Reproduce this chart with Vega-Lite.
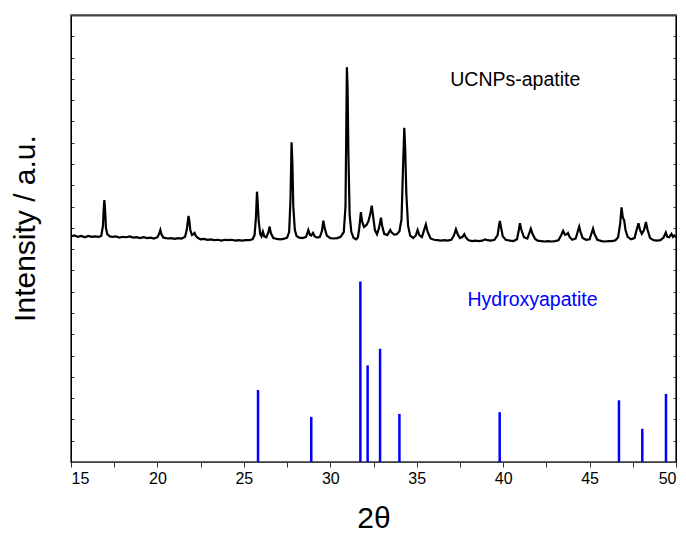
{
  "$schema": "https://vega.github.io/schema/vega-lite/v6.json",
  "width": 605,
  "height": 447,
  "autosize": {"type": "none"},
  "padding": {"left": 71, "top": 15, "right": 10, "bottom": 71},
  "background": "white",
  "config": {"view": {"stroke": "#333333", "strokeWidth": 1.5}, "axis": {"grid": false, "labelFont": "Liberation Sans", "titleFont": "Liberation Sans", "titleFontWeight": "normal", "labelColor": "#000", "titleColor": "#000"}},
  "datasets": {
    "xrd": [
      {"t":15.0,"i":53.0},{"t":15.2,"i":53.2},{"t":15.4,"i":52.9},{"t":15.6,"i":53.1},{"t":15.8,"i":52.8},{"t":16.0,"i":53.1},{"t":16.2,"i":52.9},{"t":16.4,"i":53.0},{"t":16.6,"i":52.9},{"t":16.75,"i":53.1},{"t":16.85,"i":55.5},{"t":16.9,"i":60.0},{"t":16.93,"i":61.5},{"t":16.97,"i":59.5},{"t":17.02,"i":55.0},{"t":17.1,"i":53.5},{"t":17.25,"i":53.0},{"t":17.4,"i":52.9},{"t":17.6,"i":53.0},{"t":17.8,"i":52.7},{"t":18.0,"i":52.9},{"t":18.2,"i":52.8},{"t":18.4,"i":53.0},{"t":18.6,"i":52.7},{"t":18.8,"i":52.8},{"t":19.0,"i":52.6},{"t":19.2,"i":52.8},{"t":19.4,"i":52.6},{"t":19.6,"i":52.7},{"t":19.8,"i":52.5},{"t":20.0,"i":52.8},{"t":20.1,"i":53.6},{"t":20.17,"i":54.5},{"t":20.24,"i":53.4},{"t":20.35,"i":52.7},{"t":20.6,"i":52.5},{"t":20.8,"i":52.6},{"t":21.0,"i":52.4},{"t":21.2,"i":52.6},{"t":21.4,"i":52.5},{"t":21.6,"i":52.9},{"t":21.7,"i":54.6},{"t":21.77,"i":57.0},{"t":21.8,"i":57.8},{"t":21.84,"i":56.8},{"t":21.9,"i":54.5},{"t":22.0,"i":53.3},{"t":22.1,"i":53.6},{"t":22.15,"i":53.8},{"t":22.22,"i":53.1},{"t":22.35,"i":52.6},{"t":22.5,"i":52.3},{"t":22.7,"i":52.4},{"t":22.9,"i":52.2},{"t":23.1,"i":52.3},{"t":23.3,"i":52.1},{"t":23.5,"i":52.2},{"t":23.7,"i":52.0},{"t":23.9,"i":52.2},{"t":24.1,"i":52.1},{"t":24.3,"i":52.2},{"t":24.5,"i":52.0},{"t":24.7,"i":52.1},{"t":24.9,"i":52.0},{"t":25.1,"i":52.1},{"t":25.3,"i":52.1},{"t":25.5,"i":52.3},{"t":25.62,"i":53.3},{"t":25.7,"i":57.5},{"t":25.76,"i":63.5},{"t":25.8,"i":61.0},{"t":25.86,"i":56.5},{"t":25.95,"i":53.5},{"t":26.02,"i":53.0},{"t":26.1,"i":54.1},{"t":26.18,"i":53.0},{"t":26.3,"i":52.8},{"t":26.42,"i":54.0},{"t":26.49,"i":55.3},{"t":26.56,"i":53.8},{"t":26.7,"i":52.6},{"t":26.9,"i":52.4},{"t":27.1,"i":52.3},{"t":27.3,"i":52.4},{"t":27.5,"i":52.7},{"t":27.62,"i":54.0},{"t":27.7,"i":62.0},{"t":27.76,"i":75.1},{"t":27.81,"i":70.0},{"t":27.86,"i":60.0},{"t":27.95,"i":54.5},{"t":28.05,"i":53.1},{"t":28.2,"i":52.7},{"t":28.4,"i":52.6},{"t":28.6,"i":52.9},{"t":28.73,"i":54.5},{"t":28.82,"i":53.4},{"t":28.9,"i":53.2},{"t":29.0,"i":53.8},{"t":29.1,"i":53.0},{"t":29.25,"i":52.7},{"t":29.4,"i":52.9},{"t":29.52,"i":54.3},{"t":29.6,"i":56.7},{"t":29.67,"i":55.0},{"t":29.8,"i":53.2},{"t":30.0,"i":52.6},{"t":30.2,"i":52.5},{"t":30.4,"i":52.6},{"t":30.6,"i":52.9},{"t":30.78,"i":54.0},{"t":30.88,"i":60.0},{"t":30.93,"i":80.0},{"t":30.96,"i":92.7},{"t":31.0,"i":88.0},{"t":31.05,"i":72.0},{"t":31.12,"i":58.0},{"t":31.22,"i":54.0},{"t":31.35,"i":52.6},{"t":31.5,"i":52.3},{"t":31.6,"i":52.8},{"t":31.68,"i":55.0},{"t":31.77,"i":58.7},{"t":31.84,"i":56.5},{"t":31.95,"i":55.2},{"t":32.05,"i":55.5},{"t":32.1,"i":55.7},{"t":32.2,"i":56.5},{"t":32.3,"i":58.0},{"t":32.4,"i":60.2},{"t":32.47,"i":58.0},{"t":32.58,"i":54.5},{"t":32.7,"i":53.5},{"t":32.82,"i":55.0},{"t":32.93,"i":57.4},{"t":33.0,"i":55.5},{"t":33.12,"i":53.6},{"t":33.3,"i":53.3},{"t":33.4,"i":54.0},{"t":33.47,"i":54.5},{"t":33.55,"i":53.9},{"t":33.7,"i":53.4},{"t":33.85,"i":53.5},{"t":34.0,"i":54.2},{"t":34.12,"i":57.0},{"t":34.2,"i":68.0},{"t":34.28,"i":78.5},{"t":34.33,"i":74.0},{"t":34.4,"i":63.0},{"t":34.5,"i":55.5},{"t":34.62,"i":53.2},{"t":34.8,"i":52.6},{"t":34.95,"i":53.2},{"t":35.05,"i":54.5},{"t":35.15,"i":53.3},{"t":35.3,"i":52.8},{"t":35.42,"i":54.4},{"t":35.53,"i":55.8},{"t":35.62,"i":54.2},{"t":35.8,"i":52.5},{"t":36.0,"i":52.2},{"t":36.2,"i":52.1},{"t":36.4,"i":52.0},{"t":36.6,"i":52.1},{"t":36.8,"i":52.0},{"t":37.0,"i":52.2},{"t":37.15,"i":53.2},{"t":37.27,"i":54.7},{"t":37.38,"i":53.4},{"t":37.5,"i":52.6},{"t":37.65,"i":52.9},{"t":37.75,"i":53.5},{"t":37.85,"i":52.7},{"t":38.0,"i":52.1},{"t":38.2,"i":51.9},{"t":38.4,"i":52.0},{"t":38.6,"i":51.9},{"t":38.8,"i":52.0},{"t":38.95,"i":52.3},{"t":39.1,"i":52.1},{"t":39.3,"i":52.0},{"t":39.5,"i":52.2},{"t":39.68,"i":53.3},{"t":39.76,"i":55.5},{"t":39.81,"i":56.6},{"t":39.87,"i":55.3},{"t":39.98,"i":53.0},{"t":40.15,"i":52.2},{"t":40.4,"i":52.0},{"t":40.6,"i":51.9},{"t":40.8,"i":52.3},{"t":40.9,"i":54.3},{"t":40.97,"i":56.1},{"t":41.05,"i":54.6},{"t":41.2,"i":52.8},{"t":41.4,"i":52.5},{"t":41.52,"i":53.8},{"t":41.6,"i":54.8},{"t":41.7,"i":53.6},{"t":41.85,"i":52.4},{"t":42.0,"i":52.0},{"t":42.2,"i":51.9},{"t":42.4,"i":51.8},{"t":42.6,"i":51.9},{"t":42.8,"i":51.8},{"t":43.0,"i":51.9},{"t":43.2,"i":52.1},{"t":43.35,"i":53.2},{"t":43.47,"i":54.3},{"t":43.58,"i":53.4},{"t":43.68,"i":53.5},{"t":43.75,"i":53.8},{"t":43.85,"i":52.8},{"t":44.0,"i":52.2},{"t":44.2,"i":52.5},{"t":44.32,"i":54.2},{"t":44.4,"i":55.3},{"t":44.48,"i":54.0},{"t":44.6,"i":52.6},{"t":44.8,"i":52.2},{"t":45.0,"i":52.3},{"t":45.12,"i":53.8},{"t":45.2,"i":54.8},{"t":45.28,"i":53.6},{"t":45.45,"i":52.2},{"t":45.7,"i":51.9},{"t":45.9,"i":51.8},{"t":46.1,"i":51.9},{"t":46.3,"i":51.9},{"t":46.5,"i":52.1},{"t":46.65,"i":52.8},{"t":46.77,"i":56.0},{"t":46.85,"i":59.8},{"t":46.92,"i":57.5},{"t":47.0,"i":56.8},{"t":47.08,"i":54.5},{"t":47.2,"i":52.9},{"t":47.4,"i":52.3},{"t":47.6,"i":52.6},{"t":47.72,"i":54.5},{"t":47.83,"i":56.1},{"t":47.92,"i":54.5},{"t":48.02,"i":53.6},{"t":48.15,"i":54.5},{"t":48.26,"i":56.4},{"t":48.35,"i":54.6},{"t":48.5,"i":52.6},{"t":48.7,"i":52.1},{"t":48.9,"i":52.0},{"t":49.1,"i":52.1},{"t":49.28,"i":52.7},{"t":49.41,"i":53.9},{"t":49.5,"i":52.9},{"t":49.6,"i":52.8},{"t":49.74,"i":53.6},{"t":49.82,"i":52.9},{"t":49.9,"i":53.2},{"t":50.0,"i":52.8}
    ],
    "ha": [
      {"t":25.82,"h":16.9},{"t":28.9,"h":10.6},{"t":31.74,"h":42.4},{"t":32.16,"h":22.7},{"t":32.88,"h":26.6},{"t":34.0,"h":11.3},{"t":39.8,"h":11.7},{"t":46.7,"h":14.5},{"t":48.05,"h":7.8},{"t":49.42,"h":16.0}
    ],
    "frame": [
      {"x0": 15, "x1": 50, "ytop": 104.8}
    ]
  },
  "layer": [
    {
      "data": {"name": "xrd"},
      "mark": {"type": "line", "color": "#000000", "strokeWidth": 2.2, "clip": true},
      "encoding": {
        "x": {"field": "t", "type": "quantitative", "scale": {"domain": [15, 50]},
          "axis": {"orient": "bottom", "values": [15,17.5,20,22.5,25,27.5,30,32.5,35,37.5,40,42.5,45,47.5,50], "labelExpr": "datum.value % 5 === 0 ? datum.label : ''", "labelOverlap": false, "tickSize": 5, "tickColor": "#333", "domainColor": "#444", "labelFontSize": 16, "labelPadding": 3, "title": "2θ", "titleFontSize": 30, "titleY": 56, "titleBaseline": "middle"}},
        "y": {"field": "i", "type": "quantitative", "scale": {"domain": [0, 105]},
          "axis": {"orient": "left", "values": [5,10,15,20,25,30,35,40,45,50,55,60,65,70,75,80,85,90,95,100], "labels": false, "tickSize": -3, "tickColor": "#333", "domainColor": "#000", "title": "Intensity / a.u.", "titleFontSize": 30, "titleX": -46, "titleY": 213, "titleAngle": 270, "titleBaseline": "middle", "titleAlign": "center"}}
      }
    },
    {
      "data": {"name": "ha"},
      "mark": {"type": "rule", "color": "#0000ff", "strokeWidth": 2.5},
      "encoding": {
        "x": {"field": "t", "type": "quantitative", "scale": {"domain": [15, 50]}, "axis": null},
        "y": {"field": "h", "type": "quantitative", "scale": {"domain": [0, 105]}, "axis": null},
        "y2": {"datum": 0}
      }
    },
    {
      "data": {"values": [{"t": 40.7, "v": 89.7, "s": "UCNPs-apatite"}]},
      "mark": {"type": "text", "color": "#000000", "fontSize": 19.5, "font": "Liberation Sans", "align": "center", "baseline": "middle"},
      "encoding": {
        "x": {"field": "t", "type": "quantitative", "scale": {"domain": [15, 50]}, "axis": null},
        "y": {"field": "v", "type": "quantitative", "scale": {"domain": [0, 105]},
          "axis": {"orient": "right", "values": [5,10,15,20,25,30,35,40,45,50,55,60,65,70,75,80,85,90,95,100], "labels": false, "tickSize": -3, "tickColor": "#333", "domainColor": "#000", "title": null}},
        "text": {"field": "s"}
      }
    },
    {
      "data": {"values": [{"t": 41.7, "v": 38.1, "s": "Hydroxyapatite"}]},
      "mark": {"type": "text", "color": "#0000ff", "fontSize": 19.5, "font": "Liberation Sans", "align": "center", "baseline": "middle"},
      "encoding": {
        "x": {"field": "t", "type": "quantitative", "scale": {"domain": [15, 50]}, "axis": null},
        "y": {"field": "v", "type": "quantitative", "scale": {"domain": [0, 105]}, "axis": null},
        "text": {"field": "s"}
      }
    },
    {
      "data": {"name": "frame"},
      "mark": {"type": "rule", "color": "#444444", "strokeWidth": 1.5},
      "encoding": {
        "x": {"field": "x0", "type": "quantitative", "scale": {"domain": [15, 50]}, "axis": null},
        "x2": {"field": "x1"},
        "y": {"field": "ytop", "type": "quantitative", "scale": {"domain": [0, 105]}, "axis": null}
      }
    }
  ],
  "resolve": {"scale": {"x": "independent", "y": "independent"}, "axis": {"x": "independent", "y": "independent"}}
}
